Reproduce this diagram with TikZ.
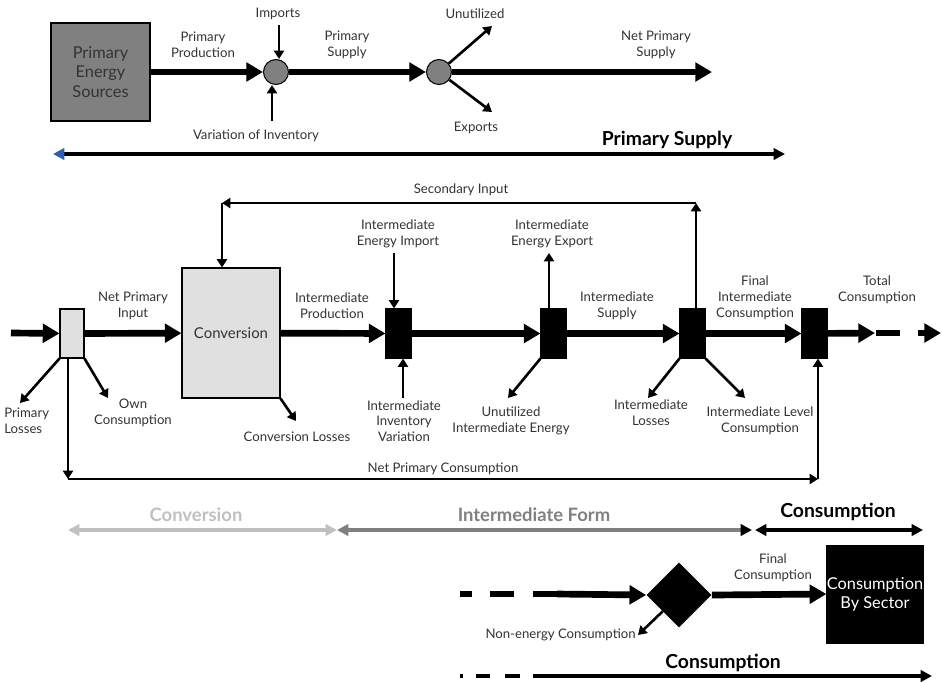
\documentclass[tikz,border=0pt]{standalone}
\usepackage{fontspec}
\setmainfont{Lato}
\usetikzlibrary{arrows.meta, positioning, shapes.geometric, calc}

\definecolor{txtgray}{HTML}{333333}
\definecolor{midgray}{HTML}{808080}
\definecolor{lightgray}{HTML}{E0E0E0}
\definecolor{palegray}{HTML}{C0C0C0}
\definecolor{psblue}{HTML}{2F5FB0}

\begin{document}
\begin{tikzpicture}[
    x=0.02cm, y=-0.02cm,
    lbl/.style={font=\fontsize{7.5}{9}\selectfont, text=txtgray, align=center, inner sep=0pt},
    head/.style={font=\bfseries\fontsize{11}{13}\selectfont, inner sep=0pt},
    box/.style={draw, line width=0.6pt, inner sep=0pt, align=center},
    hub/.style={circle, draw, line width=0.6pt, fill=midgray, minimum size=0.5cm, inner sep=0pt},
    junction/.style={box, fill=black, minimum width=0.5cm, minimum height=0.98cm},
    flow/.style={line width=3.8pt, -{Triangle[length=9.5pt, width=10.5pt]}},
    feed/.style={line width=1.5pt, -{Triangle[length=4.8pt, width=5.8pt]}},
    span/.style={line width=2.4pt, {Triangle[length=6.5pt, width=6.5pt]}-{Triangle[length=6.5pt, width=6.5pt]}}
  ]
  \useasboundingbox (0,0) rectangle (942,681);

  % Primary supply chain
  \node[box, fill=midgray, minimum width=1.98cm, minimum height=1.96cm,
        font=\fontsize{9.3}{10.9}\selectfont, text=txtgray] (pes) at (100.5,72) {Primary\\Energy\\Sources};
  \node[hub] (hub1) at (276,72) {};
  \node[hub] (hub2) at (439,72) {};
  \coordinate (npsEnd) at (712,72);

  \draw[flow] (pes) -- (hub1);
  \draw[flow] (hub1) -- (hub2);
  \draw[flow] (hub2) -- (npsEnd);
  \node[lbl] (lblProd) at (203,45) {Primary\\Production};
  \node[lbl] (lblPsup) at (347,45) {Primary\\Supply};
  \node[lbl] (lblNps) at (656,45) {Net Primary\\Supply};

  \node[lbl] (imp) at (278,14) {Imports};
  \node[lbl] (inv) at (256,136) {Variation of Inventory};
  \coordinate (impStart) at (279,25);
  \coordinate (invStart) at (272,121);
  \draw[feed] (impStart) -- (impStart |- hub1.north);
  \draw[feed] (invStart) -- (invStart |- hub1.south);

  \coordinate (unutEnd) at (492,26);
  \coordinate (expEnd) at (492,112);
  \draw[feed] (hub2) -- (unutEnd);
  \draw[feed] (hub2) -- (expEnd);
  \node[lbl] (unut) at (475,14) {Unutilized};
  \node[lbl] (exp) at (476,128) {Exports};

  % Primary supply span
  \coordinate (psL) at (53,154);
  \coordinate (psR) at (785,154);
  \draw[line width=2.4pt, {Triangle[length=6.5pt, width=6.5pt, color=psblue]}-{Triangle[length=6.5pt, width=6.5pt]}] (psL) -- (psR);
  \node[head] (psHead) at (667,140) {Primary Supply};

  % Conversion and intermediate chain
  \coordinate (inStart) at (11,333);
  \node[box, fill=lightgray, minimum width=0.48cm, minimum height=0.98cm] (split) at (72,333.5) {};
  \node[box, fill=lightgray, minimum width=1.96cm, minimum height=2.6cm,
        font=\fontsize{8.5}{10}\selectfont, text=txtgray] (conv) at (231,333) {Conversion};
  \node[junction] (jn1) at (398.5,333.5) {};
  \node[junction] (jn2) at (553.5,333.5) {};
  \node[junction] (jn3) at (692.5,333.5) {};
  \node[junction] (jn4) at (814.5,333.5) {};
  \coordinate (totEnd) at (875,333);

  \draw[flow] (inStart) -- (split);
  \draw[flow] (split) -- (conv);
  \draw[flow] (conv) -- (jn1);
  \draw[flow] (jn1) -- (jn2);
  \draw[flow] (jn2) -- (jn3);
  \draw[flow] (jn3) -- (jn4);
  \draw[flow] (jn4) -- (totEnd);
  \coordinate (dashA) at (876,333);
  \coordinate (dashB) at (900,333);
  \coordinate (tipA) at (918,333);
  \coordinate (tipB) at (941,333);
  \draw[line width=3.8pt] (dashA) -- (dashB);
  \draw[flow] (tipA) -- (tipB);

  \node[lbl] (lblNpi) at (133,306) {Net Primary\\Input};
  \node[lbl] (lblIp) at (332,306) {Intermediate\\Production};
  \node[lbl] (lblIs) at (617,306) {Intermediate\\Supply};
  \node[lbl] (lblFic) at (755,298) {Final\\Intermediate\\Consumption};
  \node[lbl] (lblTc) at (877,290) {Total\\Consumption};

  % Losses and side flows
  \coordinate (plEnd) at (20,403);
  \coordinate (ocEnd) at (108,398);
  \coordinate (clEnd) at (296,421);
  \draw[feed] (split.south west) -- (plEnd);
  \draw[feed] (split.south east) -- (ocEnd);
  \draw[feed] (conv.south east) -- (clEnd);
  \node[lbl, align=left, anchor=west] (pl) at (4,421) {Primary\\Losses};
  \node[lbl] (oc) at (133,413) {Own\\Consumption};
  \node[lbl] (cl) at (297,437) {Conversion Losses};

  \coordinate (ieiStart) at (394,253);
  \coordinate (iivStart) at (403,398);
  \coordinate (ieeEnd) at (549,253);
  \draw[feed] (ieiStart) -- (ieiStart |- jn1.north);
  \draw[feed] (iivStart) -- (iivStart |- jn1.south);
  \draw[feed] (ieeEnd |- jn2.north) -- (ieeEnd);
  \node[lbl] (iei) at (398,234) {Intermediate\\Energy Import};
  \node[lbl] (iiv) at (404,421) {Intermediate\\Inventory\\Variation};
  \node[lbl] (iee) at (552,234) {Intermediate\\Energy Export};

  \coordinate (uieEnd) at (508,398);
  \coordinate (ilEnd) at (648,398);
  \coordinate (ilcEnd) at (745,398);
  \draw[feed] (jn2.south west) -- (uieEnd);
  \draw[feed] (jn3.south west) -- (ilEnd);
  \draw[feed] (jn3.south east) -- (ilcEnd);
  \node[lbl] (uie) at (511,421) {Unutilized\\Intermediate Energy};
  \node[lbl] (il) at (651,413) {Intermediate\\Losses};
  \node[lbl] (ilc) at (760,421) {Intermediate Level\\Consumption};

  % Secondary input loop
  \coordinate (secR) at (696,203);
  \coordinate (secL) at (222,203);
  \draw[feed] (jn3.north -| secR) -- (secR);
  \draw[feed] (secR) -- (secL);
  \draw[feed] (secL) -- (secL |- conv.north);
  \node[lbl] (sec) at (461,190) {Secondary Input};

  % Net primary consumption loop
  \coordinate (npcL) at (68,479);
  \coordinate (npcR) at (818,479);
  \draw[feed] (split.south -| npcL) -- (npcL);
  \draw[feed] (npcL) -- (npcR);
  \draw[feed] (npcR) -- (npcR |- jn4.south);
  \node[lbl] (npc) at (443,469) {Net Primary Consumption};

  % Stage spans
  \coordinate (cvL) at (68,530);
  \coordinate (cvR) at (337,530);
  \coordinate (ifR) at (752,530);
  \coordinate (csL) at (755,530);
  \coordinate (csR) at (923,530);
  \draw[span, palegray] (cvL) -- (cvR);
  \draw[line width=2.4pt, midgray, {Triangle[length=6.5pt, width=6.5pt]}-{Triangle[length=6.5pt, width=6.5pt, color=black]}] (cvR) -- (ifR);
  \draw[span] (csL) -- (csR);
  \node[head, palegray, font=\bfseries\fontsize{10.5}{12}\selectfont] (cvHead) at (196,515) {Conversion};
  \node[head, midgray, font=\bfseries\fontsize{10.5}{12}\selectfont] (ifHead) at (534,515) {Intermediate Form};
  \node[head] (csHead) at (838,512) {Consumption};

  % Final consumption
  \node[diamond, fill=black, inner sep=0pt, minimum width=1.3cm, minimum height=1.3cm] (dia) at (679,595) {};
  \node[box, fill=black, text=white, minimum width=1.92cm, minimum height=1.96cm,
        font=\fontsize{9.3}{10.9}\selectfont] (cbs) at (875,594) {Consumption\\By Sector};
  \coordinate (fcStart) at (557,594);
  \draw[line width=3.8pt] (460,594) -- (472,594);
  \draw[line width=3.8pt] (490,594) -- (514,594);
  \draw[line width=3.8pt] (533,594) -- (fcStart);
  \draw[flow] (fcStart) -- (dia.west);
  \draw[flow] (dia.east) -- (cbs.west);
  \node[lbl] (fc) at (773,568) {Final\\Consumption};

  \coordinate (neEnd) at (638,635);
  \draw[feed] ($(dia.south)!.5!(dia.west)$) -- (neEnd);
  \node[lbl, anchor=east] (ne) at (636,635) {Non-energy Consumption};

  % Consumption span
  \coordinate (cnStart) at (533,676);
  \coordinate (cnEnd) at (932,676);
  \draw[line width=2.4pt] (460,676) -- (463,676);
  \draw[line width=2.4pt] (476,676) -- (490,676);
  \draw[line width=2.4pt] (505,676) -- (520,676);
  \draw[line width=2.4pt, -{Triangle[length=6.5pt, width=6.5pt]}] (cnStart) -- (cnEnd);
  \node[head] (cnHead) at (723,663) {Consumption};

\end{tikzpicture}
\end{document}
